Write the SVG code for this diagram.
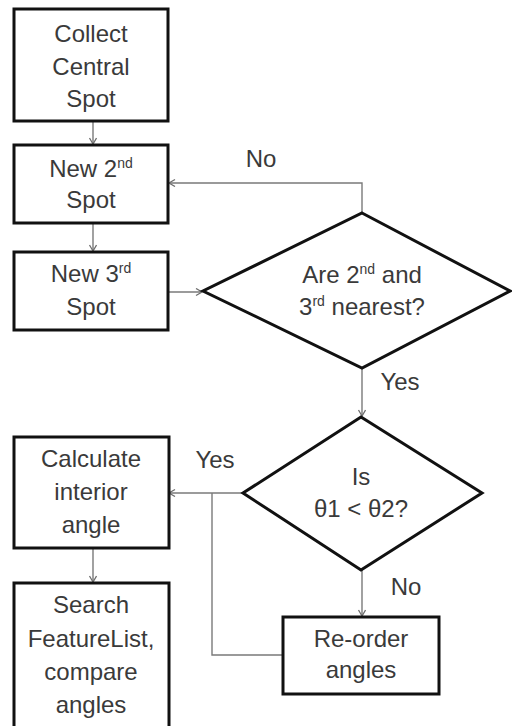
<svg xmlns="http://www.w3.org/2000/svg" width="512" height="726" viewBox="0 0 512 726">
  <defs>
    <marker id="arrow" markerUnits="userSpaceOnUse" markerWidth="10" markerHeight="10" refX="7" refY="4" orient="auto">
      <path d="M1,0.5 L7,4 L1,7.5" fill="none" stroke="#6e6e6e" stroke-width="1.3"/>
    </marker>
  </defs>
  <style>
    .box { fill: #ffffff; stroke: #111111; stroke-width: 3; }
    .dec { fill: #ffffff; stroke: #111111; stroke-width: 3; stroke-linejoin: miter; }
    .conn { fill: none; stroke: #7a7a7a; stroke-width: 1.4; }
    text { font-family: "Liberation Sans", Arial, sans-serif; font-size: 24px; fill: #3a3a3a; text-anchor: middle; }
    .sup { font-size: 14px; }
  </style>

  <rect width="512" height="726" fill="#ffffff"/>

  <!-- connectors -->
  <g id="connectors">
    <line class="conn" x1="93" y1="121" x2="93" y2="144" marker-end="url(#arrow)"/>
    <line class="conn" x1="93" y1="223" x2="93" y2="251" marker-end="url(#arrow)"/>
    <line class="conn" x1="168" y1="292" x2="202" y2="292" marker-end="url(#arrow)"/>
    <polyline class="conn" points="362,213 362,183 169,183" marker-end="url(#arrow)"/>
    <line class="conn" x1="362" y1="368" x2="362" y2="416" marker-end="url(#arrow)"/>
    <line class="conn" x1="243" y1="493" x2="169" y2="493" marker-end="url(#arrow)"/>
    <line class="conn" x1="362" y1="570" x2="362" y2="616" marker-end="url(#arrow)"/>
    <polyline class="conn" points="283,655 212,655 212,493"/>
    <line class="conn" x1="93" y1="548" x2="93" y2="582" marker-end="url(#arrow)"/>
    <text x="261" y="167">No</text>
    <text x="400" y="390">Yes</text>
    <text x="215" y="468">Yes</text>
    <text x="406" y="595">No</text>
  </g>

  <g id="collect">
    <rect class="box" x="14" y="9" width="154" height="112"/>
    <text x="91" y="42">Collect</text>
    <text x="91" y="75">Central</text>
    <text x="91" y="107">Spot</text>
  </g>

  <g id="new-second">
    <rect class="box" x="14" y="145" width="154" height="78"/>
    <text x="91" y="177">New 2<tspan class="sup" dy="-9">nd</tspan></text>
    <text x="91" y="208">Spot</text>
  </g>

  <g id="new-third">
    <rect class="box" x="14" y="252" width="154" height="78"/>
    <text x="91" y="282">New 3<tspan class="sup" dy="-9">rd</tspan></text>
    <text x="91" y="315">Spot</text>
  </g>

  <g id="nearest-check">
    <polygon class="dec" points="362,213 510,291 362,368 203,291"/>
    <text x="362" y="283">Are 2<tspan class="sup" dy="-9">nd</tspan><tspan dy="9"> and</tspan></text>
    <text x="362" y="315">3<tspan class="sup" dy="-9">rd</tspan><tspan dy="9"> nearest?</tspan></text>
  </g>

  <g id="angle-check">
    <polygon class="dec" points="361,417 482,493 361,570 243,493"/>
    <text x="361" y="485">Is</text>
    <text x="361" y="517">θ1 &lt; θ2?</text>
  </g>

  <g id="reorder">
    <rect class="box" x="283" y="617" width="156" height="77"/>
    <text x="361" y="647">Re-order</text>
    <text x="361" y="678">angles</text>
  </g>

  <g id="calculate">
    <rect class="box" x="14" y="437" width="155" height="111"/>
    <text x="91" y="467">Calculate</text>
    <text x="91" y="500">interior</text>
    <text x="91" y="533">angle</text>
  </g>

  <g id="search">
    <rect class="box" x="14" y="583" width="155" height="146"/>
    <text x="91" y="613">Search</text>
    <text x="91" y="647">FeatureList,</text>
    <text x="91" y="680">compare</text>
    <text x="91" y="713">angles</text>
  </g>
</svg>
